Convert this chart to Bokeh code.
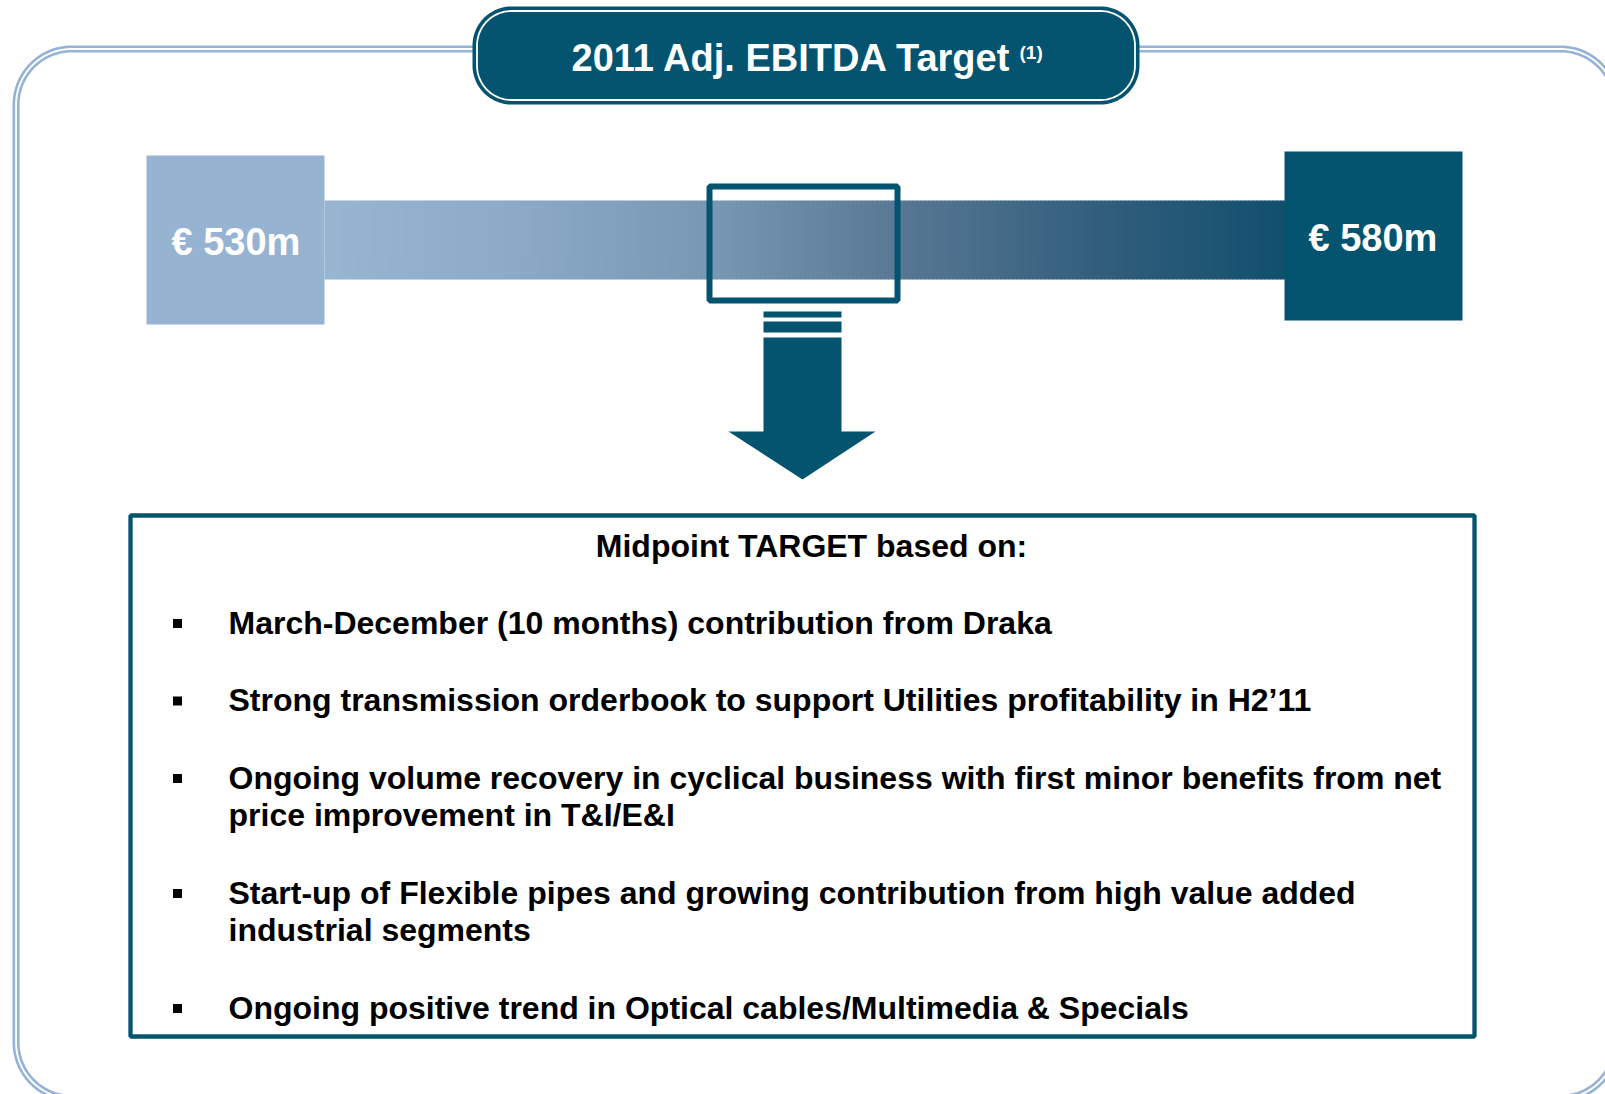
import numpy as np
from bokeh.plotting import figure
from bokeh.models import Range1d, ColumnDataSource
from bokeh.core.properties import value
from bokeh.embed import file_html
from bokeh.resources import INLINE

# ---------------- data / texts ----------------
title_text = "2011 Adj. EBITDA Target"
title_note = "(1)"
range_low = 530
range_high = 580
unit_fmt = "€ {}m"
heading = "Midpoint TARGET based on:"
bullets = [
    ["March-December (10 months) contribution from Draka"],
    ["Strong transmission orderbook to support Utilities profitability in H2\u201911"],
    ["Ongoing volume recovery in cyclical business with first minor benefits from net",
     "price improvement in T&I/E&I"],
    ["Start-up of Flexible pipes and growing contribution from high value added",
     "industrial segments"],
    ["Ongoing positive trend in Optical cables/Multimedia & Specials"],
]

# ---------------- style ----------------
DARK = "#04536f"
FRAME = "#95b3d7"
LIGHTBOX = "#97b3d2"
FONT = value("Liberation Sans")
TXT_DY = -11.0  # baseline correction for svg text

W, H = 1605, 1094
p = figure(width=W, height=H, x_range=Range1d(0, W), y_range=Range1d(H, 0),
           output_backend="svg", toolbar_location=None, min_border=0)
p.axis.visible = False
p.grid.visible = False
p.outline_line_color = None
p.background_fill_color = "white"
p.border_fill_color = "white"


def rounded(x0, y0, x1, y1, r, n=24):
    xs, ys = [], []
    corners = [(x1 - r, y0 + r, -90, 0), (x1 - r, y1 - r, 0, 90),
               (x0 + r, y1 - r, 90, 180), (x0 + r, y0 + r, 180, 270)]
    for cx, cy, a0, a1 in corners:
        a = np.radians(np.linspace(a0, a1, n))
        xs.extend(cx + r * np.cos(a))
        ys.extend(cy + r * np.sin(a))
    xs.append(xs[0]); ys.append(ys[0])
    return xs, ys


def label(x, y, t, size, color, align="left"):
    p.text(x=[x], y=[y + TXT_DY], text=[t], text_font=FONT, text_font_style="bold",
           text_font_size=size, text_color=color, text_baseline="alphabetic", text_align=align)


# outer double frame
for inset, rad in [(0, 58), (4.5, 53.5)]:
    xs, ys = rounded(13.3 + inset, 46.2 + inset, 1618 - inset, 1100 - inset, rad)
    p.line(xs, ys, line_color=FRAME, line_width=2.6)

# title box
xs, ys = rounded(473, 7, 1138, 103, 38)
p.patch(xs, ys, fill_color=DARK, line_color=DARK, line_width=2)
xs, ys = rounded(476.5, 10.5, 1134.5, 99.5, 34.5)
p.line(xs, ys, line_color="white", line_width=1.8)
label(571, 68, title_text, "38px", "white")
label(1019, 63, title_note, "19px", "white")

# gradient band
band_x0, band_x1 = 324, 1284
stops_x = [324, 520, 710, 900, 1100, 1284]
stops_r = [152, 140, 120, 88, 50, 18]
stops_g = [181, 170, 152, 120, 95, 80]
stops_b = [210, 200, 180, 148, 125, 110]
edges = np.linspace(band_x0, band_x1, 241)
mids = (edges[:-1] + edges[1:]) / 2
cols = ["#%02x%02x%02x" % (int(np.interp(m, stops_x, stops_r)),
                            int(np.interp(m, stops_x, stops_g)),
                            int(np.interp(m, stops_x, stops_b))) for m in mids]
p.quad(left=edges[:-1], right=edges[1:] + 0.6, top=200, bottom=279,
       fill_color=cols, line_color=None)

# end boxes with range values
p.quad(left=[146], right=[324], top=[155], bottom=[324], fill_color=LIGHTBOX, line_color=None)
p.quad(left=[1284], right=[1462], top=[151], bottom=[320], fill_color=DARK, line_color=None)
label(171, 252, unit_fmt.format(range_low), "38px", "white")
label(1308, 248, unit_fmt.format(range_high), "38px", "white")

# midpoint target frame
p.quad(left=[709], right=[897], top=[186], bottom=[300], fill_color=None,
       line_color=DARK, line_width=6)

# arrow
p.quad(left=[763, 763, 763], right=[841, 841, 841], top=[311, 321, 337], bottom=[317, 332, 432],
       fill_color=DARK, line_color=None)
p.patch([728, 875, 802], [431, 431, 479], fill_color=DARK, line_color=None)

# bottom box
p.quad(left=[130], right=[1474], top=[515], bottom=[1036], fill_color="white",
       line_color=DARK, line_width=4.3)
label(811, 556, heading, "32px", "black", align="center")

line_x, line_y, sq_y = [], [], []
y = 633.0
for item in bullets:
    sq_y.append(y - 10)
    for j, ln in enumerate(item):
        line_x.append(228)
        line_y.append(y + TXT_DY)
        if j < len(item) - 1:
            y += 37.5
    y += 77.5
texts = [ln for item in bullets for ln in item]
src = ColumnDataSource(dict(x=line_x, y=line_y, t=texts))
p.text(x="x", y="y", text="t", source=src, text_font=FONT, text_font_style="bold",
       text_font_size="32px", text_color="black", text_baseline="alphabetic", text_align="left")
p.scatter(x=[177] * len(sq_y), y=sq_y, marker="square", size=9, fill_color="black", line_color=None)

open("out.html", "w").write(file_html(p, INLINE))
